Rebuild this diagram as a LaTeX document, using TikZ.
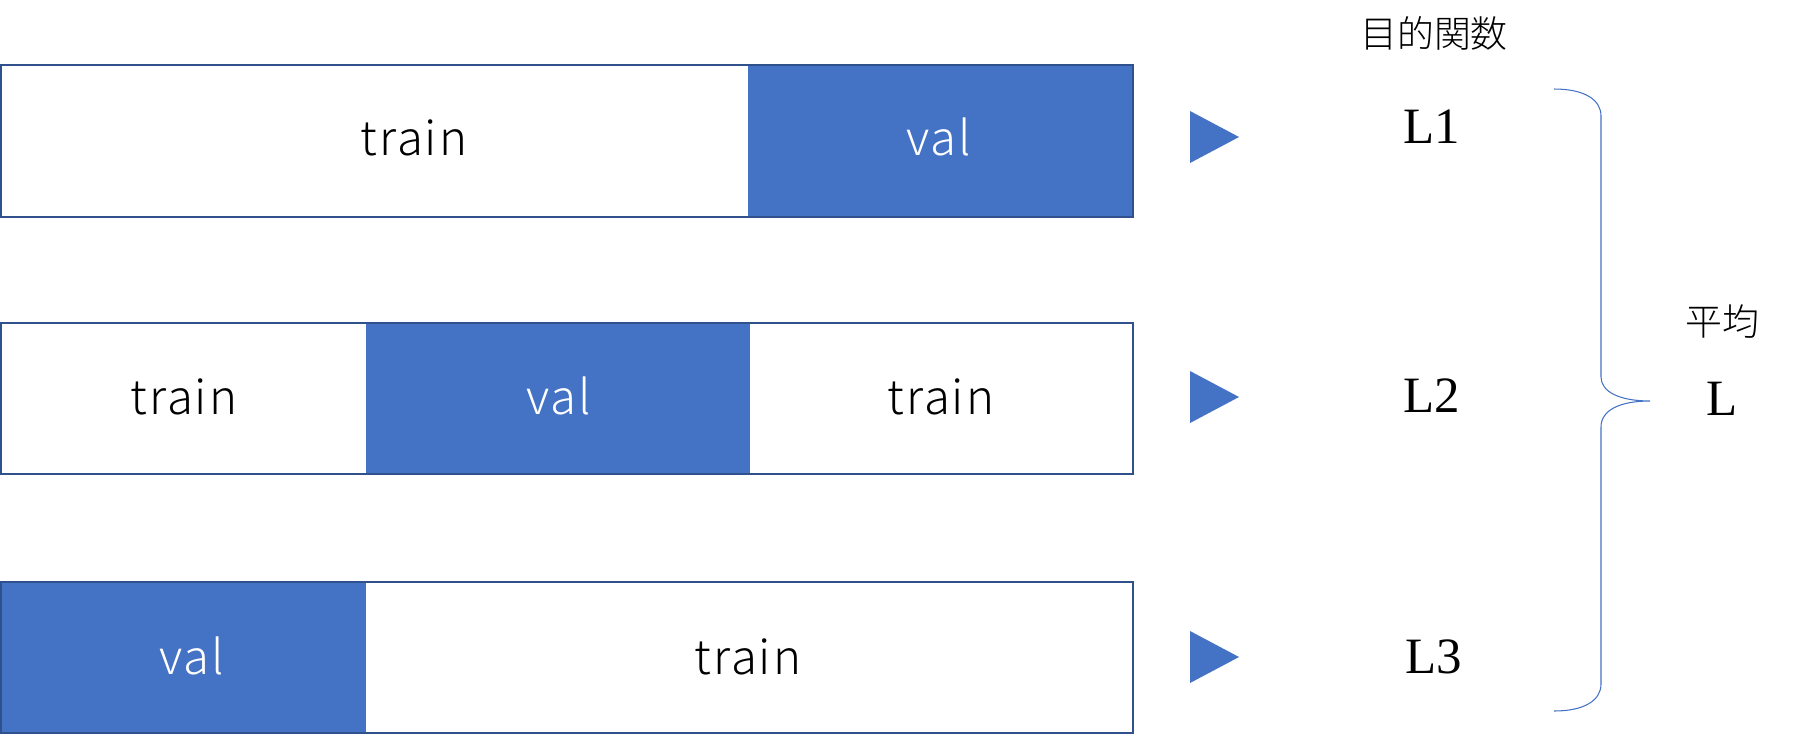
\documentclass[tikz,border=0pt]{standalone}
\usepackage{fontspec}
\setmainfont{Liberation Serif}
\newfontfamily\jp{Noto Sans CJK JP Light}[LetterSpace=4]
\newfontfamily\jpj{Noto Sans CJK JP Light}
\definecolor{valblue}{HTML}{4472C4}
\definecolor{edge}{HTML}{2F528F}
\begin{document}
\begin{tikzpicture}[x=0.02cm,y=-0.02cm,
  seg/.style={inner sep=0pt,anchor=base,font=\jp\fontsize{27}{27}\selectfont},
  lab/.style={inner sep=0pt,anchor=base,font=\fontsize{29}{29}\selectfont},
  jlab/.style={inner sep=0pt,font=\jpj\fontsize{21}{21}\selectfont},
  frame/.style={draw=edge,line width=0.85pt},
  tri/.style={fill=valblue}]
\useasboundingbox (0,0) rectangle (1818,735);
% row 1
\fill[valblue] (748,65) rectangle (1133,217);
\draw[frame] (1,65) rectangle (1133,217);
\node[seg] (t1) at (414,155) {train};
\node[seg,text=white] (v1) at (939,155) {val};
% row 2
\fill[valblue] (366,323) rectangle (750,474);
\draw[frame] (1,323) rectangle (1133,474);
\node[seg] (t2a) at (184,414) {train};
\node[seg,text=white] (v2) at (559,414) {val};
\node[seg] (t2b) at (941,414) {train};
% row 3
\fill[valblue] (1,582) rectangle (366,733);
\draw[frame] (1,582) rectangle (1133,733);
\node[seg,text=white] (v3) at (192,674) {val};
\node[seg] (t3) at (748,674) {train};
% triangles
\fill[tri] (1190,111) -- (1190,163) -- (1239,137) -- cycle;
\fill[tri] (1190,371) -- (1190,423) -- (1239,397) -- cycle;
\fill[tri] (1190,631) -- (1190,683) -- (1239,657) -- cycle;
% labels
\node[jlab] (obj) at (1434,33) {目的関数};
\node[lab] (l1) at (1432,143) {L1};
\node[lab] (l2) at (1432,412) {L2};
\node[lab] (l3) at (1434,673) {L3};
\node[jlab] (avg) at (1722,322) {平均};
\node[lab] (lavg) at (1722,415) {L};
% brace
\draw[valblue,line width=0.6pt]
  (1554,89) .. controls (1585,89) and (1601,100) .. (1601,116)
  -- (1601,377) .. controls (1601,392) and (1620,401) .. (1650,401)
  .. controls (1620,401) and (1601,410) .. (1601,427)
  -- (1601,684) .. controls (1601,700) and (1585,711) .. (1554,711);
\end{tikzpicture}
\end{document}
